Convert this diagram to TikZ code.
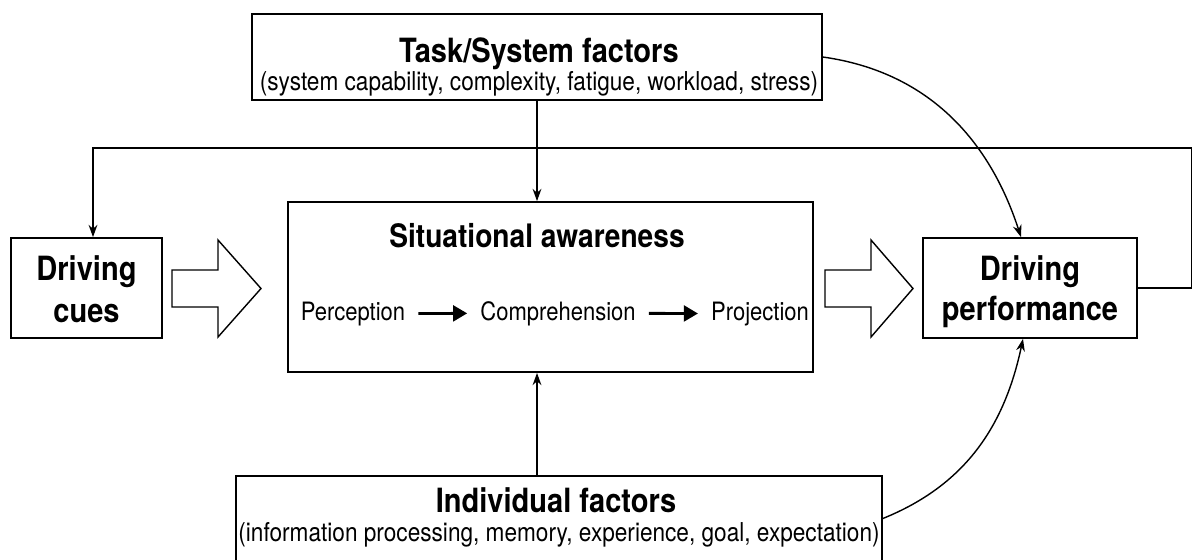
\documentclass[tikz,border=0pt]{standalone}
\usepackage{fontspec}
\setmainfont[FakeStretch=0.87]{TeX Gyre Heros}
\usetikzlibrary{arrows.meta}

\tikzset{box/.style={draw,line width=1pt,inner sep=0pt},
conn/.style={line width=0.8pt,-{Stealth[length=7pt,width=5pt]}},
hollow/.style={draw,line width=0.8pt,fill=white},
flow/.style={line width=1.6pt,shorten <=0.14cm,shorten >=0.14cm,-{Triangle[length=8pt,width=9pt]}}}

\begin{document}
\begin{tikzpicture}[x=0.02cm,y=-0.02cm]
\useasboundingbox(0,0)rectangle(1192,559);
\node[box,minimum width=11.4cm,minimum height=1.72cm](task)at(537,57){};
\node[box,minimum width=10.5cm,minimum height=3.4cm](sa)at(550.5,287){};
\node[box,minimum width=3.02cm,minimum height=2cm](cues)at(86.5,288){};
\node[box,minimum width=4.28cm,minimum height=2cm](perf)at(1030,288){};
\node[box,minimum width=12.92cm,minimum height=1.7cm](indiv)at(559,518.5){};
\node[anchor=base,font=\fontsize{19}{22}\selectfont\bfseries](tasktitle)at(539,62){Task/System factors};
\node[anchor=base,font=\fontsize{14.8}{17}\selectfont](tasksub)at(539,90){(system capability, complexity, fatigue, workload, stress)};
\node[anchor=base,font=\fontsize{18.4}{21}\selectfont\bfseries](satitle)at(537,247){Situational awareness};
\node[anchor=base,font=\fontsize{19}{22}\selectfont\bfseries](indtitle)at(556,512){Individual factors};
\node[anchor=base,font=\fontsize{14.8}{17}\selectfont](indsub)at(559,541){(information processing, memory, experience, goal, expectation)};
\node[anchor=base,font=\fontsize{19}{22}\selectfont\bfseries](cuesA)at(86.5,280){Driving};
\node[anchor=base,font=\fontsize{19}{22}\selectfont\bfseries](cuesB)at(86.5,322){cues};
\node[anchor=base,font=\fontsize{19}{22}\selectfont\bfseries](perfA)at(1030,280){Driving};
\node[anchor=base,font=\fontsize{19}{22}\selectfont\bfseries](perfB)at(1030,320){performance};
\node[anchor=base,font=\fontsize{14.4}{17}\selectfont](perc)at(353,320){Perception};
\node[anchor=base,font=\fontsize{14.4}{17}\selectfont](comp)at(558,320){Comprehension};
\node[anchor=base,font=\fontsize{14.4}{17}\selectfont](proj)at(760,320){Projection};
\draw[flow](perc.east)--(comp.west);
\draw[flow](comp.east)--(proj.west);
\draw[hollow](172,270)--(218,270)--(218,240)--(261,288.5)--(218,337)--(218,307)--(172,307)--cycle;
\draw[hollow](825,270)--(871,270)--(871,240)--(913,288.5)--(871,337)--(871,307)--(825,307)--cycle;
\coordinate(fbR)at(1191.5,148);
\draw[conn](perf.east)-|(fbR)-|([xshift=0.13cm]cues.north);
\draw[conn](task)--(task.south|-sa.north);
\draw[conn](indiv)--(indiv.north-|task.south)--(sa.south-|task.south);
\draw[conn](task.east)to[out=-8,in=108]([xshift=-0.18cm]perf.north);
\draw[conn](indiv.east)to[out=22,in=-102]([xshift=-0.14cm]perf.south);
\end{tikzpicture}
\end{document}
